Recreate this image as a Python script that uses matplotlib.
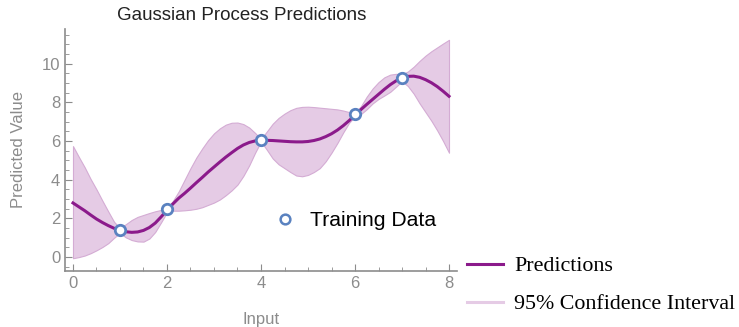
import matplotlib
matplotlib.use("Agg")
import matplotlib.pyplot as plt
from matplotlib.lines import Line2D
from matplotlib.ticker import MultipleLocator

# values (step 0.125)
x_grid = [i / 8 for i in range(65)]
mean = [2.80, 2.60, 2.40, 2.18, 1.97, 1.79, 1.63, 1.49, 1.38, 1.31, 1.28, 1.30, 1.38,
        1.53, 1.76, 2.08, 2.42, 2.75, 3.05, 3.30, 3.57, 3.85, 4.12, 4.40, 4.66, 4.92,
        5.17, 5.40, 5.62, 5.80, 5.93, 6.01, 6.04, 6.04, 6.03, 6.01, 5.99, 5.97, 5.96,
        5.96, 5.98, 6.03, 6.11, 6.23, 6.38, 6.57, 6.80, 7.06, 7.35, 7.63, 7.90, 8.16,
        8.42, 8.68, 8.92, 9.12, 9.27, 9.35, 9.36, 9.30, 9.18, 9.02, 8.82, 8.58, 8.32]
upper = [5.74, 5.18, 4.64, 4.04, 3.50, 2.92, 2.36, 1.82, 1.50, 1.70, 1.92, 2.08, 2.18,
         2.28, 2.37, 2.44, 2.52, 2.90, 3.40, 4.00, 4.60, 5.15, 5.62, 6.05, 6.40, 6.66,
         6.85, 6.95, 6.96, 6.88, 6.70, 6.42, 6.10, 6.50, 6.90, 7.20, 7.42, 7.60, 7.72,
         7.77, 7.78, 7.76, 7.73, 7.70, 7.67, 7.64, 7.58, 7.50, 7.45, 7.80, 8.30, 8.72,
         9.05, 9.30, 9.44, 9.48, 9.45, 9.60, 9.85, 10.15, 10.42, 10.65, 10.85, 11.05, 11.24]
lower = [-0.06, 0.00, 0.08, 0.20, 0.35, 0.52, 0.72, 1.00, 1.25, 1.02, 0.88, 0.81, 0.80,
         0.96, 1.30, 1.80, 2.32, 2.40, 2.40, 2.42, 2.45, 2.50, 2.58, 2.70, 2.82, 2.98,
         3.20, 3.45, 3.75, 4.20, 4.75, 5.40, 5.98, 5.55, 5.10, 4.80, 4.60, 4.40, 4.22,
         4.18, 4.25, 4.40, 4.60, 4.95, 5.40, 5.90, 6.45, 6.95, 7.28, 7.40, 7.65, 7.95,
         8.18, 8.36, 8.55, 8.82, 9.10, 8.85, 8.45, 7.95, 7.50, 7.05, 6.55, 6.00, 5.40]
train_x = [1, 2, 4, 6, 7]
train_y = [1.4, 2.48, 6.04, 7.38, 9.26]

PURPLE = "#8b1a8b"
BAND = "#e5cbe5"
BAND_EDGE = "#d4acd4"
GRAY = "#8c8c8c"
BLUE = "#5a82c0"

plt.rcParams['font.family'] = ['Liberation Sans', 'DejaVu Sans']

fig = plt.figure(figsize=(7.39, 3.27), dpi=100)
W, H = 739, 327
ax = fig.add_axes([65 / W, 1 - 271 / H, (457 - 65) / W, (271 - 29) / H])

ax.fill_between(x_grid, lower, upper, color=BAND, edgecolor=BAND_EDGE, linewidth=0.8)
ax.plot(x_grid, mean, color=PURPLE, linewidth=2.2)
ax.plot(train_x, train_y, 'o', markersize=7.5, markerfacecolor='white',
        markeredgecolor=BLUE, markeredgewidth=2.0, zorder=5)

ax.set_xlim(-0.17, 8.17)
ax.set_ylim(-0.72, 11.8)
ax.xaxis.set_major_locator(MultipleLocator(2))
ax.xaxis.set_minor_locator(MultipleLocator(0.5))
ax.yaxis.set_major_locator(MultipleLocator(2))
ax.yaxis.set_minor_locator(MultipleLocator(0.5))
for s in ['top', 'right']:
    ax.spines[s].set_visible(False)
for s in ['left', 'bottom']:
    ax.spines[s].set_color(GRAY)
    ax.spines[s].set_linewidth(1.2)
ax.tick_params(which='both', direction='in', color=GRAY, labelcolor=GRAY, labelsize=12)
ax.tick_params(which='major', length=5)
ax.tick_params(which='minor', length=3)

fig.text(242 / W, 1 - 16 / H, "Gaussian Process Predictions", fontsize=13.5,
         color='#222222', ha='center', va='center')
ax.set_xlabel("Input", color=GRAY, fontsize=12, labelpad=15)
ax.set_ylabel("Predicted Value", color=GRAY, fontsize=12, labelpad=11)

h_train = Line2D([], [], marker='o', linestyle='none', markersize=7,
                 markerfacecolor='white', markeredgecolor=BLUE, markeredgewidth=1.8)
ax.legend([h_train], ["Training Data"], loc='center left',
          bbox_to_anchor=(280 / W, 1 - 221 / H), bbox_transform=fig.transFigure,
          frameon=False, fontsize=15.2, handletextpad=0.95, handlelength=0.47,
          borderpad=0, borderaxespad=0)

h_pred = Line2D([], [], color=PURPLE, linewidth=2.2)
h_band = Line2D([], [], color=BAND, linewidth=2.2)
fig.legend([h_pred, h_band], ["Predictions", "95% Confidence Interval"],
           loc='upper left', bbox_to_anchor=(467 / W, 1 - 256 / H),
           frameon=False, prop={'family': 'Liberation Serif', 'size': 15.8},
           handlelength=1.64, handletextpad=0.5, labelspacing=0.8,
           borderpad=0, borderaxespad=0)

fig.savefig("out.png", dpi=100)
